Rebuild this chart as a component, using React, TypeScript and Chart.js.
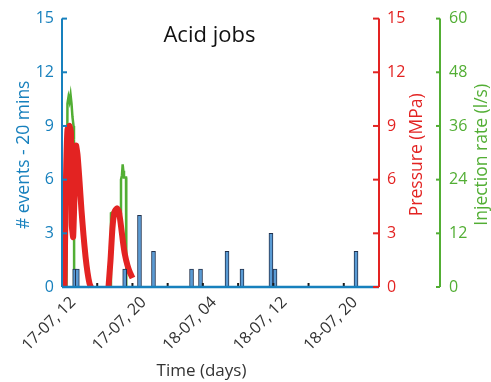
import React, { useEffect, useRef } from 'react';
import { Chart, registerables } from 'chart.js';

Chart.register(...registerables);

// Time axis: hours counted from 17-07 00:00
const axisStartHour = 8;
const axisEndHour = 44;
const tickStepHours = 4;
const labelHours = [12, 20, 28, 36, 44];
const labelTexts = ['17-07, 12', '17-07, 20', '18-07, 04', '18-07, 12', '18-07, 20'];

// Seismic events per 20-minute bin
const eventHours = [9.44, 9.74, 15.12, 16.8, 18.39, 22.71, 23.73, 26.74, 28.44, 31.73, 32.19, 41.39];
const eventCounts = [1, 1, 1, 4, 2, 1, 1, 2, 1, 3, 1, 2];

// Pressure (MPa)
const pressureHours = [8.28, 8.45, 8.62, 8.85, 9.02, 9.11, 9.27, 9.59, 9.76, 9.99, 10.21, 10.44, 10.67, 10.9, 11.12, 11.29, 12.4,
  13.28, 13.51, 13.73, 13.96, 14.25, 14.47, 14.7, 14.93, 15.15, 15.44, 15.72, 16.01];
const pressureMPa = [0, 6, 8.8, 9.0, 8.6, 3.5, 2.8, 7.9, 7.4, 5.9, 4.3, 2.9, 1.7, 0.8, 0.2, 0, null,
  0, 1.5, 3.3, 4.2, 4.4, 4.2, 3.4, 2.5, 1.8, 1.2, 0.8, 0.5];

// Injection rate (l/s)
const injectionHours = [8.51, 8.62, 8.74, 8.85, 8.97, 9.08, 9.19, 9.31, 9.36, 9.38, 11.0,
  13.51, 13.56, 14.02, 14.64, 14.7, 14.81, 14.89, 14.96, 15.04, 15.27, 15.3];
const injectionRate = [0, 41, 42.5, 41.5, 43, 41, 38, 36, 33, 0, null,
  0, 16.5, 17, 16.5, 24, 25, 27.4, 26, 24.5, 24.5, 0];

const BLUE = '#1780bd';
const RED = '#e32322';
const GREEN = '#52ae34';
const FONT = "'Open Sans', 'Noto Sans', sans-serif";

const decorPlugin = {
  id: 'decor',
  afterDatasetsDraw(chart: any) {
    const { ctx, chartArea: ca, scales } = chart;
    const { x, y, yP, yQ } = scales;
    ctx.save();
    // x ticks (inward, black)
    ctx.strokeStyle = '#1a1a1a';
    ctx.lineWidth = 2;
    x.ticks.forEach((t: any) => {
      const px = x.getPixelForValue(t.value);
      if (px <= ca.left + 2 || px >= ca.right - 2) return;
      ctx.beginPath();
      ctx.moveTo(px, ca.bottom);
      ctx.lineTo(px, ca.bottom - 4);
      ctx.stroke();
    });
    // left axis
    ctx.strokeStyle = BLUE;
    ctx.lineWidth = 2;
    ctx.beginPath();
    ctx.moveTo(ca.left, ca.top);
    ctx.lineTo(ca.left, ca.bottom);
    ctx.stroke();
    y.ticks.forEach((t: any) => {
      const py = y.getPixelForValue(t.value);
      ctx.beginPath();
      ctx.moveTo(ca.left, py);
      ctx.lineTo(ca.left + 5, py);
      ctx.stroke();
    });
    ctx.lineWidth = 2.5;
    ctx.beginPath();
    ctx.moveTo(ca.left, ca.bottom);
    ctx.lineTo(ca.right, ca.bottom);
    ctx.stroke();
    // pressure axis
    ctx.strokeStyle = RED;
    ctx.lineWidth = 2;
    const rx = yP.left;
    ctx.beginPath();
    ctx.moveTo(rx, ca.top);
    ctx.lineTo(rx, ca.bottom);
    ctx.stroke();
    yP.ticks.forEach((t: any) => {
      const py = yP.getPixelForValue(t.value);
      ctx.beginPath();
      ctx.moveTo(rx, py);
      ctx.lineTo(rx - 6, py);
      ctx.stroke();
    });
    // injection axis
    ctx.strokeStyle = GREEN;
    const gx = yQ.left;
    ctx.beginPath();
    ctx.moveTo(gx, ca.top);
    ctx.lineTo(gx, ca.bottom);
    ctx.stroke();
    yQ.ticks.forEach((t: any) => {
      const py = yQ.getPixelForValue(t.value);
      ctx.beginPath();
      ctx.moveTo(gx, py);
      ctx.lineTo(gx - 4, py);
      ctx.stroke();
    });
    ctx.restore();
  },
  afterDraw(chart: any) {
    const { ctx, chartArea: ca, scales } = chart;
    const midY = (ca.top + ca.bottom) / 2;
    ctx.save();
    ctx.textAlign = 'center';
    ctx.textBaseline = 'middle';
    // title inside plot
    ctx.fillStyle = '#111';
    ctx.font = `22px ${FONT}`;
    ctx.fillText('Acid jobs', ca.left + (ca.right - ca.left) * 0.465, ca.top + 17);
    // x title
    ctx.fillStyle = '#333';
    ctx.font = `17px ${FONT}`;
    ctx.fillText('Time (days)', ca.left + (ca.right - ca.left) * 0.44, 371);
    const vText = (text: string, cx: number, color: string) => {
      ctx.save();
      ctx.translate(cx, midY + 2);
      ctx.rotate(-Math.PI / 2);
      ctx.fillStyle = color;
      ctx.font = `17.5px ${FONT}`;
      ctx.fillText(text, 0, 0);
      ctx.restore();
    };
    vText('# events - 20 mins', 24, BLUE);
    vText('Pressure (MPa)', scales.yP.left + 38, RED);
    vText('Injection rate (l/s)', scales.yQ.left + 42, GREEN);
    ctx.restore();
  },
};

export default function App() {
  const ref = useRef<HTMLCanvasElement | null>(null);
  useEffect(() => {
    if (!ref.current) return;
    const chart = new Chart(ref.current, {
      type: 'bar',
      data: {
        datasets: [
          {
            type: 'bar',
            label: 'Events',
            data: eventHours.map((h, i) => ({ x: h, y: eventCounts[i] })),
            backgroundColor: '#5a9bd4',
            borderColor: '#22324d',
            borderWidth: 1,
            barThickness: 4,
            yAxisID: 'y',
            xAxisID: 'x',
          } as any,
          {
            type: 'line',
            label: 'Pressure',
            data: pressureHours.map((h, i) => ({ x: h, y: pressureMPa[i] })),
            borderColor: RED,
            borderWidth: 6,
            pointRadius: 0,
            tension: 0.2,
            clip: false,
            yAxisID: 'yP',
            xAxisID: 'x',
          } as any,
          {
            type: 'line',
            label: 'Injection',
            data: injectionHours.map((h, i) => ({ x: h, y: injectionRate[i] })),
            borderColor: GREEN,
            borderWidth: 2.5,
            pointRadius: 0,
            tension: 0,
            yAxisID: 'yQ',
            xAxisID: 'x',
          } as any,
        ],
      },
      options: {
        responsive: false,
        animation: false,
        devicePixelRatio: 1,
        layout: { padding: { top: 13, left: 0, right: 0, bottom: 0 } },
        plugins: { legend: { display: false }, tooltip: { enabled: false }, title: { display: false } },
        events: [],
        scales: {
          x: {
            type: 'linear',
            position: 'bottom',
            min: axisStartHour,
            max: axisEndHour,
            offset: false,
            grid: { display: false, drawTicks: false },
            border: { display: false },
            ticks: {
              stepSize: tickStepHours,
              autoSkip: false,
              maxRotation: 45,
              minRotation: 45,
              labelOffset: -24,
              padding: 6,
              color: '#333',
              font: { family: FONT, size: 16 },
              callback: (v: any) => {
                const idx = labelHours.indexOf(Number(v));
                return idx >= 0 ? labelTexts[idx] : '';
              },
            },
            afterFit: (s: any) => { s.height = 95; },
          },
          y: {
            position: 'left',
            min: 0,
            max: 15,
            grid: { display: false, drawTicks: false },
            border: { display: false },
            ticks: { stepSize: 3, padding: 8, color: BLUE, font: { family: FONT, size: 16 } },
            afterFit: (s: any) => { s.width = 62; },
          },
          yP: {
            position: 'right',
            min: 0,
            max: 15,
            grid: { display: false, drawTicks: false },
            border: { display: false },
            ticks: { stepSize: 3, padding: 8, color: RED, font: { family: FONT, size: 16 } },
            afterFit: (s: any) => { s.width = 61; },
          },
          yQ: {
            position: 'right',
            min: 0,
            max: 60,
            grid: { display: false, drawTicks: false },
            border: { display: false },
            ticks: { stepSize: 12, padding: 9, color: GREEN, font: { family: FONT, size: 16 } },
            afterFit: (s: any) => { s.width = 51; },
          },
        },
      } as any,
      plugins: [decorPlugin],
    });
    return () => chart.destroy();
  }, []);
  return (
    <div style={{ position: 'absolute', left: 0, top: 0, width: 491, height: 382, background: '#fff' }}>
      <canvas ref={ref} width={491} height={382} style={{ display: 'block' }} />
    </div>
  );
}
